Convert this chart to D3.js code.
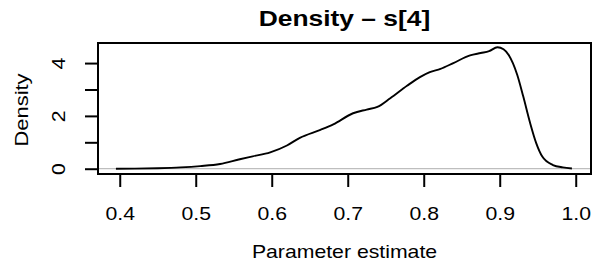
<!DOCTYPE html>
<html>
<head>
<meta charset="utf-8">
<script src="https://cdn.jsdelivr.net/npm/d3@7"></script>
<style>
  body { margin: 0; background: #fff; }
  text { font-family: "Liberation Sans", Arial, sans-serif; fill: #000; }
</style>
</head>
<body>
<svg id="chart"></svg>
<script>
// Density curve
const estimate = [0.395, 0.42, 0.45, 0.48, 0.506, 0.532, 0.558, 0.575, 0.598, 0.62, 0.637, 0.664, 0.681, 0.707, 0.725, 0.739, 0.756, 0.778, 0.795, 0.808, 0.822, 0.839, 0.861, 0.875, 0.886, 0.897, 0.905, 0.912, 0.923, 0.931, 0.94, 0.948, 0.956, 0.97, 0.983, 0.995]
const density = [0, 0.005, 0.02, 0.05, 0.1, 0.18, 0.36, 0.47, 0.62, 0.88, 1.17, 1.47, 1.68, 2.1, 2.24, 2.34, 2.67, 3.14, 3.47, 3.66, 3.78, 4.0, 4.29, 4.38, 4.45, 4.6, 4.52, 4.3, 3.56, 2.73, 1.73, 0.97, 0.46, 0.14, 0.05, 0.01]

const xTicks = [0.4, 0.5, 0.6, 0.7, 0.8, 0.9, 1.0]
const yTicks = [0, 1, 2, 3, 4]
const yLabelled = [0, 2, 4]

const title = "Density \u2013 s[4]"
const xTitle = "Parameter estimate"
const yTitle = "Density"

const width = 599
const height = 270
const margin = { top: 43, right: 8, bottom: 96, left: 98 }
const stretch = 1.18 // text in the picture is wider than Arial

const svg = d3.select("#chart")
  .attr("width", width)
  .attr("height", height)

// Scales
const x = d3.scaleLinear()
  .domain([0.3714, 1.0201])
  .range([margin.left, width - margin.right])

const y = d3.scaleLinear()
  .domain([-0.2, 4.76])
  .range([height - margin.bottom, margin.top])

// Grey zero line
svg.append("line")
  .attr("x1", x.range()[0])
  .attr("x2", x.range()[1])
  .attr("y1", y(0))
  .attr("y2", y(0))
  .attr("stroke", "#bebebe")
  .attr("stroke-width", 1.2)

// Density curve
const line = d3.line()
  .x((d, i) => x(estimate[i]))
  .y(d => y(d))
  .curve(d3.curveMonotoneX)

svg.append("path")
  .datum(density)
  .attr("d", line)
  .attr("fill", "none")
  .attr("stroke", "#000")
  .attr("stroke-width", 1.9)
  .attr("stroke-linejoin", "round")

// Box
svg.append("rect")
  .attr("x", x.range()[0])
  .attr("y", y.range()[1])
  .attr("width", x.range()[1] - x.range()[0])
  .attr("height", y.range()[0] - y.range()[1])
  .attr("fill", "none")
  .attr("stroke", "#000")
  .attr("stroke-width", 2)

// X axis
svg.append("g")
  .attr("transform", `translate(0, ${y.range()[0]})`)
  .call(d3.axisBottom(x)
    .tickValues(xTicks)
    .tickSize(13)
    .tickSizeOuter(0)
    .tickFormat(d3.format(".1f")))
  .call(g => g.select(".domain").remove())
  .call(g => g.selectAll(".tick line")
    .attr("stroke", "#000")
    .attr("stroke-width", 2))
  .call(g => g.selectAll(".tick text")
    .attr("y", 46)
    .attr("dy", 0)
    .attr("font-size", 18)
    .attr("fill", "#000")
    .attr("transform", `scale(${stretch},1)`))

// Y axis
svg.append("g")
  .attr("transform", `translate(${x.range()[0]}, 0)`)
  .call(d3.axisLeft(y)
    .tickValues(yTicks)
    .tickSize(13)
    .tickSizeOuter(0)
    .tickFormat(d => yLabelled.includes(d) ? d : ""))
  .call(g => g.select(".domain").remove())
  .call(g => g.selectAll(".tick line")
    .attr("stroke", "#000")
    .attr("stroke-width", 2))
  .call(g => g.selectAll(".tick text")
    .attr("x", null)
    .attr("dy", 0)
    .attr("text-anchor", "middle")
    .attr("font-size", 18)
    .attr("fill", "#000")
    .attr("transform", `translate(-33, 0) rotate(-90) scale(${stretch},1)`))

// Titles
svg.append("text")
  .attr("transform", `translate(${(x.range()[0] + x.range()[1]) / 2}, 26) scale(1.2,1)`)
  .attr("text-anchor", "middle")
  .attr("font-size", 22)
  .attr("font-weight", "bold")
  .text(title)

svg.append("text")
  .attr("transform", `translate(${(x.range()[0] + x.range()[1]) / 2}, 258) scale(${stretch},1)`)
  .attr("text-anchor", "middle")
  .attr("font-size", 18)
  .text(xTitle)

svg.append("text")
  .attr("transform", `translate(28, 110) rotate(-90) scale(1.22,1)`)
  .attr("text-anchor", "middle")
  .attr("font-size", 18)
  .text(yTitle)
</script>
</body>
</html>
